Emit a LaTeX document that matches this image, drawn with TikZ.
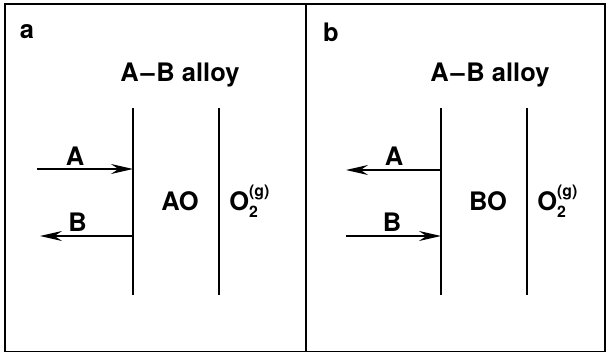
\documentclass[tikz,border=0pt]{standalone}
\usepackage{fontspec}
\setmainfont{TeX Gyre Heros}
\usetikzlibrary{arrows.meta,positioning}

\begin{document}
\begin{tikzpicture}[>={Stealth[length=0.44cm,width=0.2cm,inset=0.15cm]},
  lbl/.style={font=\fontsize{14.5}{16}\selectfont\bfseries,inner sep=0pt},
  wall/.style={line width=1.1pt},
  flux/.style={line width=0.9pt,->}]
\useasboundingbox (0,0) rectangle (12.14,-7.1);
\draw[line width=1.1pt] (0.1,-0.08) rectangle (12.1,-7.03);
\draw[line width=1.1pt] (6.12,-0.08) -- (6.12,-7.03);
% panel a
\node[lbl] (pa) at (0.54,-0.64) {a};
\node[lbl] (alloya) at (3.6,-1.5) {A\kern1pt--\kern1pt B alloy};
\coordinate (a1t) at (2.66,-2.16);
\coordinate (a1b) at (2.66,-5.9);
\coordinate (a2t) at (4.38,-2.16);
\coordinate (a2b) at (4.38,-5.9);
\draw[wall] (a1t) -- (a1b);
\draw[wall] (a2t) -- (a2b);
\coordinate (aAin) at (0.74,-3.38);
\coordinate (aAend) at (2.66,-3.38);
\coordinate (aBend) at (0.8,-4.72);
\coordinate (aBin) at (2.66,-4.72);
\draw[flux] (aAin) -- (aAend);
\draw[flux] (aBin) -- (aBend);
\node[lbl] (aA) at (1.5,-3.13) {A};
\node[lbl] (aB) at (1.55,-4.45) {B};
\node[lbl] (ao) at (3.6,-4.02) {AO};
\node[lbl,anchor=west] (oa) at (4.58,-4.02) {O\rlap{\raisebox{-0.45ex}{\small 2}}\raisebox{1.05ex}{\small (g)}};
% panel b
\node[lbl] (pb) at (6.62,-0.64) {b};
\node[lbl] (alloyb) at (9.8,-1.5) {A\kern1pt--\kern1pt B alloy};
\coordinate (b1t) at (8.82,-2.16);
\coordinate (b1b) at (8.82,-5.9);
\coordinate (b2t) at (10.54,-2.16);
\coordinate (b2b) at (10.54,-5.9);
\draw[wall] (b1t) -- (b1b);
\draw[wall] (b2t) -- (b2b);
\coordinate (bAout) at (6.92,-3.4);
\coordinate (bAst) at (8.82,-3.4);
\coordinate (bBin) at (6.92,-4.72);
\coordinate (bBend) at (8.82,-4.72);
\draw[flux] (bAst) -- (bAout);
\draw[flux] (bBin) -- (bBend);
\node[lbl] (bA) at (7.88,-3.13) {A};
\node[lbl] (bB) at (7.84,-4.45) {B};
\node[lbl] (bo) at (9.76,-4.02) {BO};
\node[lbl,anchor=west] (ob) at (10.74,-4.02) {O\rlap{\raisebox{-0.45ex}{\small 2}}\raisebox{1.05ex}{\small (g)}};
\end{tikzpicture}
\end{document}
